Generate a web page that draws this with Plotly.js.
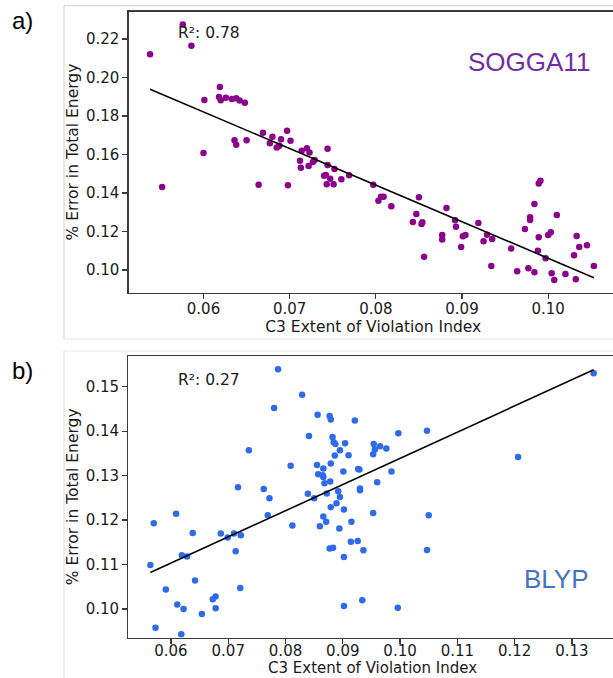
<!DOCTYPE html>
<html>
<head>
<meta charset="utf-8">
<script src="https://cdn.plot.ly/plotly-3.0.1.min.js"></script>
<style>
html,body{margin:0;padding:0;overflow:hidden;background:#fff;width:613px;height:678px;}
#plot{width:640px;height:700px;}
</style>
</head>
<body>
<div id="plot"></div>
<script>
// ---- Data ----
const soggaX = [0.0538,0.0552,0.0576,0.0586,0.0601,0.0600,0.0619,0.0618,0.0620,0.0626,0.0633,0.0638,0.0642,0.0648,
  0.0636,0.0638,0.0650,0.0664,0.0669,0.0680,0.0677,0.0685,0.0688,0.0690,0.0697,0.0701,0.0698,0.0712,0.0713,0.0714,
  0.0720,0.0723,0.0722,0.0727,0.0729,0.0744,0.0744,0.0752,0.0740,0.0742,0.0747,0.0743,0.0751,0.0760,0.0769,0.0797,
  0.0806,0.0809,0.0803,0.0818,0.0850,0.0847,0.0843,0.0854,0.0853,0.0856,0.0882,0.0892,0.0893,0.0877,0.0877,0.0901,
  0.0904,0.0899,0.0919,0.0925,0.0929,0.0935,0.0934,0.0957,0.0964,0.0973,0.0979,0.0979,0.0977,0.0984,0.0984,0.0989,
  0.0988,0.0989,0.0991,0.0997,0.1000,0.1003,0.1004,0.1007,0.1010,0.1020,0.1030,0.1033,0.1036,0.1032,0.1045,0.1053];
const soggaY = [0.2121,0.1431,0.2276,0.2165,0.1883,0.1608,0.1951,0.1899,0.1882,0.1895,0.1888,0.1892,0.1880,0.1869,
  0.1674,0.1651,0.1674,0.1443,0.1713,0.1692,0.1658,0.1636,0.1645,0.1679,0.1724,0.1672,0.1440,0.1568,0.1531,0.1620,
  0.1632,0.1611,0.1540,0.1561,0.1571,0.1630,0.1545,0.1525,0.1490,0.1494,0.1474,0.1445,0.1445,0.1471,0.1492,0.1443,
  0.1381,0.1381,0.1360,0.1331,0.1378,0.1291,0.1249,0.1248,0.1239,0.1069,0.1322,0.1258,0.1225,0.1182,0.1158,0.1175,
  0.1182,0.1119,0.1244,0.1149,0.1183,0.1161,0.1021,0.1111,0.0993,0.1213,0.1274,0.1260,0.1009,0.1343,0.0988,0.1170,
  0.1100,0.1450,0.1464,0.1061,0.1182,0.1196,0.0983,0.0948,0.1286,0.0979,0.1076,0.1177,0.1119,0.0952,0.1128,0.1021];
const soggaFitX = [0.0538, 0.1053];
const soggaFitY = [0.1939, 0.0960];

const blypX = [0.0787,0.0829,0.0780,0.0856,0.0877,0.0879,0.0921,0.0736,0.0841,0.0882,0.0884,0.0887,0.0904,0.0895,
  0.0886,0.0910,0.0954,0.0965,0.0956,0.0976,0.0953,0.0997,0.1047,0.1338,0.1206,0.0809,0.0855,0.0866,0.0879,0.0857,
  0.0865,0.0866,0.0901,0.0927,0.0929,0.0985,0.0878,0.0868,0.0960,0.0717,0.0762,0.0772,0.0839,0.0850,0.0872,0.0889,
  0.0892,0.0930,0.0930,0.0895,0.0879,0.0902,0.0953,0.1050,0.0915,0.0894,0.0883,0.0877,0.0914,0.0926,0.0936,0.0902,
  0.1047,0.0902,0.0934,0.0996,0.0609,0.0570,0.0638,0.0687,0.0699,0.0710,0.0722,0.0713,0.0769,0.0812,0.0860,0.0866,
  0.0871,0.0619,0.0628,0.0564,0.0642,0.0591,0.0611,0.0622,0.0573,0.0618,0.0654,0.0673,0.0678,0.0678,0.0721];
const blypY = [0.1539,0.1482,0.1452,0.1437,0.1434,0.1426,0.1424,0.1357,0.1389,0.1387,0.1375,0.1371,0.1373,0.1357,
  0.1345,0.1346,0.1371,0.1366,0.1359,0.1361,0.1348,0.1395,0.1401,0.1530,0.1342,0.1322,0.1324,0.1316,0.1327,0.1303,
  0.1301,0.1297,0.1309,0.1315,0.1314,0.1309,0.1287,0.1283,0.1285,0.1274,0.1270,0.1249,0.1259,0.1249,0.1260,0.1238,
  0.1265,0.1271,0.1267,0.1252,0.1229,0.1224,0.1216,0.1211,0.1196,0.1181,0.1138,0.1136,0.1151,0.1153,0.1132,0.1117,
  0.1133,0.1007,0.1020,0.1003,0.1214,0.1193,0.1171,0.1170,0.1161,0.1170,0.1166,0.1130,0.1211,0.1188,0.1186,0.1208,
  0.1196,0.1121,0.1118,0.1099,0.1064,0.1044,0.1010,0.1000,0.0958,0.0943,0.0989,0.1022,0.1028,0.1002,0.1047];
const blypFitX = [0.0564, 0.1338];
const blypFitY = [0.1082, 0.1538];

const topXTicks = [0.06,0.07,0.08,0.09,0.10];
const topYTicks = [0.10,0.12,0.14,0.16,0.18,0.20,0.22];
const botXTicks = [0.06,0.07,0.08,0.09,0.10,0.11,0.12,0.13];
const botYTicks = [0.10,0.11,0.12,0.13,0.14,0.15];
const xTitle = 'C3 Extent of Violation Index';
const yTitle = '% Error in Total Energy';
const r2Top = 'R²: 0.78';
const r2Bot = 'R²: 0.27';
const nameTop = 'SOGGA11';
const nameBot = 'BLYP';

// ---- Layout helpers (figure is larger than the window; the overflow is clipped) ----
const W = 640, H = 700;
const px = v => v / W;
const py = v => 1 - v / H;
const FONT = 'DejaVu Sans, sans-serif';
const AX = '#3a3a3a';
const TXT = '#1a1a1a';

function axisCommon(ticks, range, domain) {
  return {
    range: range, domain: domain,
    tickmode: 'array', tickvals: ticks, ticktext: ticks.map(t => t.toFixed(2)),
    showgrid: false, zeroline: false,
    showline: true, linecolor: AX, linewidth: 1.2, mirror: true,
    ticks: 'outside', ticklen: 5, tickwidth: 1.2, tickcolor: AX,
    tickfont: {family: FONT, size: 15, color: TXT},
  };
}

const traces = [
  {x: soggaX, y: soggaY, type: 'scatter', mode: 'markers', xaxis: 'x', yaxis: 'y',
   marker: {color: '#8B008B', size: 6.5}, hoverinfo: 'skip'},
  {x: soggaFitX, y: soggaFitY, type: 'scatter', mode: 'lines', xaxis: 'x', yaxis: 'y',
   line: {color: '#000', width: 1.6}, hoverinfo: 'skip'},
  {x: blypX, y: blypY, type: 'scatter', mode: 'markers', xaxis: 'x2', yaxis: 'y2',
   marker: {color: '#2F6BE8', size: 6.5}, hoverinfo: 'skip'},
  {x: blypFitX, y: blypFitY, type: 'scatter', mode: 'lines', xaxis: 'x2', yaxis: 'y2',
   line: {color: '#000', width: 1.6}, hoverinfo: 'skip'},
];

const xa1 = axisCommon(topXTicks, [0.0513, 0.1081], [px(128.5), px(618)]);
xa1.anchor = 'y';
xa1.ticklabelstandoff = -3;
xa1.title = {text: xTitle, font: {family: FONT, size: 15.5, color: TXT}, standoff: 2};
const ya1 = axisCommon(topYTicks, [0.0882, 0.2343], [py(292.7), py(11.5)]);
ya1.anchor = 'x';
ya1.title = {text: yTitle, font: {family: FONT, size: 15.5, color: TXT}, standoff: 3};

const xa2 = axisCommon(botXTicks, [0.05255, 0.1377], [px(128.3), px(616)]);
xa2.anchor = 'y2';
xa2.ticklabelstandoff = -6;
const ya2 = axisCommon(botYTicks, [0.09355, 0.1569], [py(637.7), py(356)]);
ya2.anchor = 'x2';
ya2.title = {text: yTitle, font: {family: FONT, size: 15.5, color: TXT}, standoff: 3};

const layout = {
  width: W, height: H,
  margin: {l: 0, r: 0, t: 0, b: 0, pad: 0},
  paper_bgcolor: '#fff', plot_bgcolor: '#fff',
  showlegend: false,
  xaxis: xa1, yaxis: ya1, xaxis2: xa2, yaxis2: ya2,
  shapes: [
    {type: 'line', xref: 'paper', yref: 'paper', x0: px(64), x1: 1, y0: py(5.7), y1: py(5.7), line: {color: '#cfcfcf', width: 1}},
    {type: 'line', xref: 'paper', yref: 'paper', x0: px(64), x1: px(64), y0: py(5.7), y1: py(339), line: {color: '#cfcfcf', width: 1}},
    {type: 'line', xref: 'paper', yref: 'paper', x0: px(64), x1: 1, y0: py(339), y1: py(339), line: {color: '#e6e6e6', width: 1}},
    {type: 'line', xref: 'paper', yref: 'paper', x0: px(64), x1: 1, y0: py(351), y1: py(351), line: {color: '#ececec', width: 1}},
    {type: 'line', xref: 'paper', yref: 'paper', x0: px(64), x1: px(64), y0: py(351), y1: 0, line: {color: '#dcdcdc', width: 1}},
  ],
  annotations: [
    {text: 'a)', xref: 'paper', yref: 'paper', x: px(10), y: py(20), xanchor: 'left', yanchor: 'middle', showarrow: false,
     font: {family: 'Liberation Sans, Arial, sans-serif', size: 24, color: '#000'}},
    {text: 'b)', xref: 'paper', yref: 'paper', x: px(10), y: py(370), xanchor: 'left', yanchor: 'middle', showarrow: false,
     font: {family: 'Liberation Sans, Arial, sans-serif', size: 24, color: '#000'}},
    {text: r2Top, xref: 'paper', yref: 'paper', x: px(176), y: py(33.5), xanchor: 'left', yanchor: 'middle', showarrow: false,
     font: {family: FONT, size: 15.5, color: TXT}},
    {text: r2Bot, xref: 'paper', yref: 'paper', x: px(176), y: py(379.5), xanchor: 'left', yanchor: 'middle', showarrow: false,
     font: {family: FONT, size: 15.5, color: TXT}},
    {text: nameTop, xref: 'paper', yref: 'paper', x: px(466), y: py(62), xanchor: 'left', yanchor: 'middle', showarrow: false,
     font: {family: 'Liberation Sans, Arial, sans-serif', size: 26, color: '#7030A0'}},
    {text: nameBot, xref: 'paper', yref: 'paper', x: px(522), y: py(579), xanchor: 'left', yanchor: 'middle', showarrow: false,
     font: {family: 'Liberation Sans, Arial, sans-serif', size: 26, color: '#4472C4'}},
    // bottom panel x-axis title (placed as annotation so it stays inside the window)
    {text: xTitle, xref: 'paper', yref: 'paper', x: px(372), y: py(677.5), xanchor: 'center', yanchor: 'bottom', showarrow: false,
     borderpad: 0, font: {family: FONT, size: 15, color: TXT}},
  ],
};

Plotly.newPlot('plot', traces, layout, {staticPlot: true, displayModeBar: false});
</script>
</body>
</html>
